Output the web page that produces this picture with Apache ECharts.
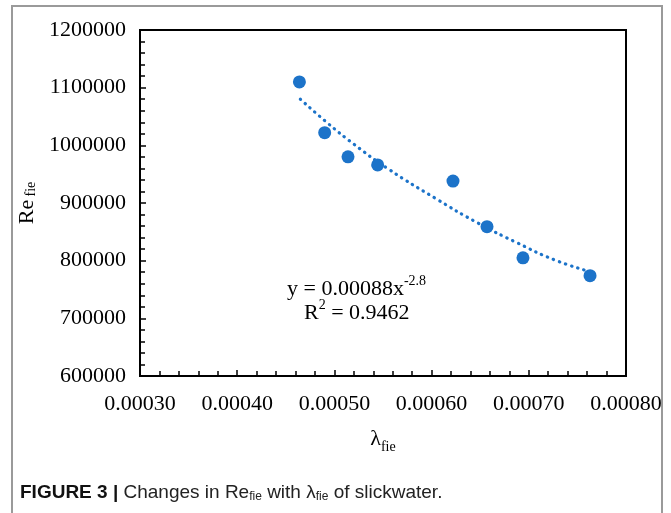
<!DOCTYPE html>
<html>
<head>
<meta charset="utf-8">
<script src="https://cdn.jsdelivr.net/npm/echarts@6/dist/echarts.min.js"></script>
<style>
    html, body { margin: 0; padding: 0; background: #fff; }
    #chart { width: 671px; height: 513px; }
</style>
</head>
<body>
<div id="chart"></div>
<script>
// measured points (lambda_fie, Re_fie)
const lambdaFie = [0.000464, 0.000490, 0.000514, 0.0005445, 0.000622, 0.000657, 0.000694, 0.000763];
const reFie = [1110000, 1022000, 980000, 966000, 938000, 859000, 805000, 774000];

// power trendline
const trendX = [0.000465, 0.000492, 0.000520, 0.000555, 0.000604, 0.000648, 0.000688, 0.000727, 0.000763];
const trendY = [1080000, 1040000, 1002000, 959500, 908000, 865000, 831000, 801000, 781000];

const xTicks = { min: 0.0003, max: 0.0008, step: 0.0001 };
const yTicks = { min: 600000, max: 1200000, step: 100000 };

const serif = "'Liberation Serif', 'Times New Roman', serif";
const sans = "'Liberation Sans', Arial, sans-serif";
const blue = '#1c73c9';

let myChart = echarts.init(document.getElementById('chart'));

let points = lambdaFie.map((x, i) => [x, reFie[i]]);
let trend = trendX.map((x, i) => [x, trendY[i]]);

let option = {
    animation: false,
    backgroundColor: '#fff',
    grid: {
        left: 140,
        right: 45,
        top: 30,
        bottom: 137,
        show: true,
        borderColor: '#000',
        borderWidth: 2
    },
    xAxis: {
        type: 'value',
        min: xTicks.min,
        max: xTicks.max,
        interval: xTicks.step,
        name: '{m|λ}{s|fie}',
        nameLocation: 'middle',
        nameGap: 52,
        nameTextStyle: {
            rich: {
                m: { fontFamily: serif, fontSize: 22, color: '#000', lineHeight: 26, verticalAlign: 'top' },
                s: { fontFamily: serif, fontSize: 14, color: '#000', lineHeight: 26, verticalAlign: 'bottom', padding: [8, 0, 0, 0] }
            }
        },
        axisLine: { lineStyle: { color: '#000', width: 2 } },
        axisTick: { inside: true, length: 6, lineStyle: { color: '#000', width: 1.5 } },
        minorTick: { show: true, splitNumber: 5, length: 5, lineStyle: { color: '#000', width: 1.5 } },
        splitLine: { show: false },
        axisLabel: {
            fontFamily: serif,
            fontSize: 22,
            color: '#000',
            margin: 17,
            formatter: v => v.toFixed(5)
        }
    },
    yAxis: {
        type: 'value',
        min: yTicks.min,
        max: yTicks.max,
        interval: yTicks.step,
        name: '{m|Re} {s|fie}',
        nameLocation: 'middle',
        nameRotate: 90,
        nameGap: 98,
        nameTextStyle: {
            rich: {
                m: { fontFamily: serif, fontSize: 22, color: '#000', lineHeight: 26 },
                s: { fontFamily: serif, fontSize: 14, color: '#000', lineHeight: 26, padding: [8, 0, 0, 0] }
            }
        },
        axisLine: { show: true, lineStyle: { color: '#000', width: 2 } },
        axisTick: { show: true, inside: true, length: 6, lineStyle: { color: '#000', width: 1.5 } },
        minorTick: { show: true, splitNumber: 5, length: 5, lineStyle: { color: '#000', width: 1.5 } },
        splitLine: { show: false },
        axisLabel: {
            fontFamily: serif,
            fontSize: 22,
            color: '#000',
            margin: 14,
            formatter: v => String(v)
        }
    },
    series: [
        {
            type: 'line',
            data: trend,
            smooth: true,
            showSymbol: false,
            z: 1,
            lineStyle: { color: blue, width: 3.2, type: [0.4, 6], cap: 'round' }
        },
        {
            type: 'scatter',
            data: points,
            symbol: 'circle',
            symbolSize: 13,
            z: 2,
            itemStyle: { color: blue, opacity: 1 }
        }
    ],
    graphic: [
        {
            // outer figure frame (no bottom edge)
            type: 'polyline',
            shape: { points: [[12, 513], [12, 6], [662, 6], [662, 513]] },
            style: { stroke: '#9a9a9a', lineWidth: 2, fill: null }
        },
        {
            type: 'text',
            left: 287,
            top: 274,
            style: {
                text: '{t|y = 0.00088x}{p|-2.8}',
                rich: {
                    t: { fontFamily: serif, fontSize: 22, fill: '#000', lineHeight: 26, verticalAlign: 'bottom' },
                    p: { fontFamily: serif, fontSize: 14, fill: '#000', lineHeight: 26, verticalAlign: 'top', padding: [0, 0, 10, 0] }
                }
            }
        },
        {
            type: 'text',
            left: 304,
            top: 298,
            style: {
                text: '{t|R}{p|2}{t| = 0.9462}',
                rich: {
                    t: { fontFamily: serif, fontSize: 22, fill: '#000', lineHeight: 26, verticalAlign: 'bottom' },
                    p: { fontFamily: serif, fontSize: 14, fill: '#000', lineHeight: 26, verticalAlign: 'top', padding: [0, 0, 10, 0] }
                }
            }
        },
        {
            type: 'text',
            left: 20,
            top: 483,
            style: {
                text: '{b|FIGURE 3 | }{n|Changes in Re}{s|fie}{n| with λ}{s|fie}{n| of slickwater.}',
                rich: {
                    b: { fontFamily: sans, fontWeight: 'bold', fontSize: 19, fill: '#111', lineHeight: 24 },
                    n: { fontFamily: sans, fontSize: 19, fill: '#222', lineHeight: 24 },
                    s: { fontFamily: sans, fontSize: 12, fill: '#222', lineHeight: 24, padding: [8, 0, 0, 0] }
                }
            }
        }
    ]
};

myChart.setOption(option);
</script>
</body>
</html>
